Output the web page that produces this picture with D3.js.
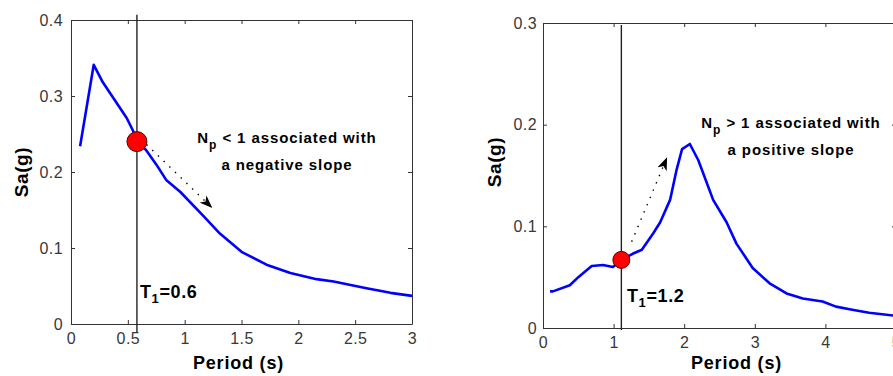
<!DOCTYPE html>
<html>
<head>
<meta charset="utf-8">
<script src="https://cdn.jsdelivr.net/npm/d3@7"></script>
<style>
    body { margin: 0; background: #fff; }
    svg text { font-family: "Liberation Sans", Arial, Helvetica, sans-serif; }
</style>
</head>
<body>
<svg id="chart" width="893" height="376"></svg>
<script>
// DATA - left panel (T1 = 0.6 s, negative slope)
const periodsA = [0.08, 0.2, 0.28, 0.49, 0.55, 0.58, 0.66, 0.75, 0.84, 0.96, 1.16, 1.31, 1.5, 1.72, 1.93, 2.16, 2.31, 2.6, 2.81, 3.0];
const saA = [0.234, 0.341, 0.318, 0.271, 0.253, 0.240, 0.229, 0.210, 0.189, 0.174, 0.143, 0.119, 0.095, 0.078, 0.067, 0.059, 0.056, 0.047, 0.041, 0.037];
const xTicksA = [0, 0.5, 1, 1.5, 2, 2.5, 3];
const yTicksA = [0, 0.1, 0.2, 0.3, 0.4];
const t1A = [0.58, 0.24];              // period, Sa at T1
const t1LineA = [0.407, -0.011];        // vertical marker extent (Sa)
const arrowA = [[0.665, 0.236], [1.237, 0.1535]];
const noteA = ["< 1 associated with", "a negative slope"];
const t1LabelA = "=0.6";

// DATA - right panel (T1 = 1.2 s, positive slope)
const periodsB = [0.10, 0.14, 0.38, 0.50, 0.69, 0.85, 0.99, 1.11, 1.27, 1.40, 1.56, 1.66, 1.80, 1.89, 1.97, 2.08, 2.20, 2.41, 2.60, 2.74, 2.97, 3.21, 3.45, 3.68, 3.96, 4.15, 4.38, 4.62, 5.0];
const saB = [0.036, 0.036, 0.042, 0.050, 0.061, 0.062, 0.060, 0.067, 0.073, 0.077, 0.093, 0.104, 0.126, 0.155, 0.176, 0.181, 0.165, 0.126, 0.104, 0.083, 0.059, 0.044, 0.034, 0.029, 0.026, 0.021, 0.018, 0.015, 0.012];
const xTicksB = [0, 1, 2, 3, 4, 5];
const yTicksB = [0, 0.1, 0.2, 0.3];
const t1B = [1.11, 0.067];
const t1LineB = [0.298, -0.002];
const arrowB = [[1.256, 0.0849], [1.752, 0.167]];
const noteB = ["> 1 associated with", "a positive slope"];
const t1LabelB = "=1.2";

const svg = d3.select("#chart");

// arrow head like matlab's annotation arrow
svg.append("defs").append("marker")
    .attr("id", "head")
    .attr("viewBox", "0 0 13 10")
    .attr("refX", 12)
    .attr("refY", 5)
    .attr("markerWidth", 13)
    .attr("markerHeight", 10)
    .attr("markerUnits", "userSpaceOnUse")
    .attr("orient", "auto")
    .append("path")
    .attr("d", "M0,0 L13,5 L0,10 L3.5,5 Z")
    .attr("fill", "#000");

function drawPanel(p) {
    const x = d3.scaleLinear().domain(p.xDomain).range([p.left, p.right]);
    const y = d3.scaleLinear().domain(p.yDomain).range([p.bottom, p.top]);
    const fmt = d3.format("~g");
    const g = svg.append("g");

    // AXES (matlab box, ticks inside)
    const axes = [
        g.append("g").attr("transform", "translate(0," + p.bottom + ")")
            .call(d3.axisBottom(x).tickValues(p.xTicks).tickSize(-4).tickSizeOuter(0).tickPadding(9).tickFormat(fmt)),
        g.append("g").attr("transform", "translate(0," + p.top + ")")
            .call(d3.axisTop(x).tickValues(p.xTicks).tickSize(-4).tickSizeOuter(0).tickFormat("")),
        g.append("g").attr("transform", "translate(" + p.left + ",0)")
            .call(d3.axisLeft(y).tickValues(p.yTicks).tickSize(-4).tickSizeOuter(0).tickPadding(p.yPad).tickFormat(fmt)),
        g.append("g").attr("transform", "translate(" + p.right + ",0)")
            .call(d3.axisRight(y).tickValues(p.yTicks).tickSize(-4).tickSizeOuter(0).tickFormat(""))
    ];
    axes.forEach(function (a) {
        a.attr("font-family", null).attr("font-size", null);
        a.select(".domain").attr("stroke", "#333");
        a.selectAll(".tick line").attr("stroke", "#333");
        a.selectAll(".tick text")
            .attr("fill", "#383838")
            .style("font-size", "16px")
            .style("letter-spacing", "0.4px");
    });

    // vertical line at T1
    g.append("line")
        .attr("x1", x(p.t1[0])).attr("x2", x(p.t1[0]))
        .attr("y1", y(p.t1Line[0])).attr("y2", y(p.t1Line[1]))
        .attr("stroke", "#222")
        .attr("stroke-width", 1.4);

    // spectrum
    const line = d3.line()
        .x(function (d, i) { return x(p.periods[i]); })
        .y(function (d) { return y(d); });

    g.append("path")
        .datum(p.sa)
        .attr("d", line)
        .attr("fill", "none")
        .attr("stroke", "#0000ff")
        .attr("stroke-width", 2.6)
        .attr("stroke-linejoin", "round");

    // dotted arrow
    g.append("line")
        .attr("x1", x(p.arrow[0][0])).attr("y1", y(p.arrow[0][1]))
        .attr("x2", x(p.arrow[1][0])).attr("y2", y(p.arrow[1][1]))
        .attr("stroke", "#000")
        .attr("stroke-width", 1.4)
        .attr("stroke-dasharray", "1.4 6.5")
        .attr("marker-end", "url(#head)");

    // T1 point
    g.append("circle")
        .attr("cx", x(p.t1[0]))
        .attr("cy", y(p.t1[1]))
        .attr("r", p.r)
        .attr("fill", "#ff0000")
        .attr("stroke", "#5a0000")
        .attr("stroke-width", 1);

    // note text
    const n1 = g.append("text")
        .attr("x", p.noteX).attr("y", p.noteY)
        .attr("text-anchor", "middle")
        .style("font-size", "15px")
        .style("font-weight", "bold")
        .style("letter-spacing", "0.9px");
    n1.append("tspan").text("N");
    n1.append("tspan").attr("dy", 6).style("font-size", "12px").text("p");
    n1.append("tspan").attr("dy", -6).text(" " + p.note[0]);

    g.append("text")
        .attr("x", p.noteX).attr("y", p.noteY + 27)
        .attr("text-anchor", "middle")
        .style("font-size", "15px")
        .style("font-weight", "bold")
        .style("letter-spacing", "0.9px")
        .text(p.note[1]);

    // T1 label
    const t = g.append("text")
        .attr("x", p.t1X).attr("y", p.t1Y)
        .style("font-size", "18px")
        .style("font-weight", "bold")
        .style("letter-spacing", "0.6px");
    t.append("tspan").text("T");
    t.append("tspan").attr("dy", 5).style("font-size", "13px").text("1");
    t.append("tspan").attr("dy", -5).text(p.t1Label);

    // axis titles
    g.append("text")
        .attr("x", (p.left + Math.min(p.right, 893 + 3)) / 2 + p.xTitleShift)
        .attr("y", 369)
        .attr("text-anchor", "middle")
        .style("font-size", "18px")
        .style("font-weight", "bold")
        .style("letter-spacing", "0.8px")
        .text("Period (s)");

    g.append("text")
        .attr("transform", "translate(" + p.yTitleX + "," + p.yTitleY + ") rotate(-90)")
        .attr("text-anchor", "middle")
        .style("font-size", "19px")
        .style("font-weight", "bold")
        .style("letter-spacing", "0.6px")
        .text("Sa(g)");
}

drawPanel({
    left: 71, right: 412, top: 20, bottom: 324,
    xDomain: [0, 3], yDomain: [0, 0.4],
    xTicks: xTicksA, yTicks: yTicksA, yPad: 8,
    periods: periodsA, sa: saA,
    t1: t1A, t1Line: t1LineA, arrow: arrowA, r: 10,
    note: noteA, noteX: 287, noteY: 143,
    t1Label: t1LabelA, t1X: 140, t1Y: 298,
    xTitleShift: -3, yTitleX: 28, yTitleY: 172
});

drawPanel({
    left: 543, right: 896, top: 23, bottom: 328,
    xDomain: [0, 5], yDomain: [0, 0.3],
    xTicks: xTicksB, yTicks: yTicksB, yPad: 6,
    periods: periodsB, sa: saB,
    t1: t1B, t1Line: t1LineB, arrow: arrowB, r: 8.5,
    note: noteB, noteX: 791, noteY: 128,
    t1Label: t1LabelB, t1X: 627, t1Y: 302,
    xTitleShift: 17, yTitleX: 501, yTitleY: 162
});
</script>
</body>
</html>
